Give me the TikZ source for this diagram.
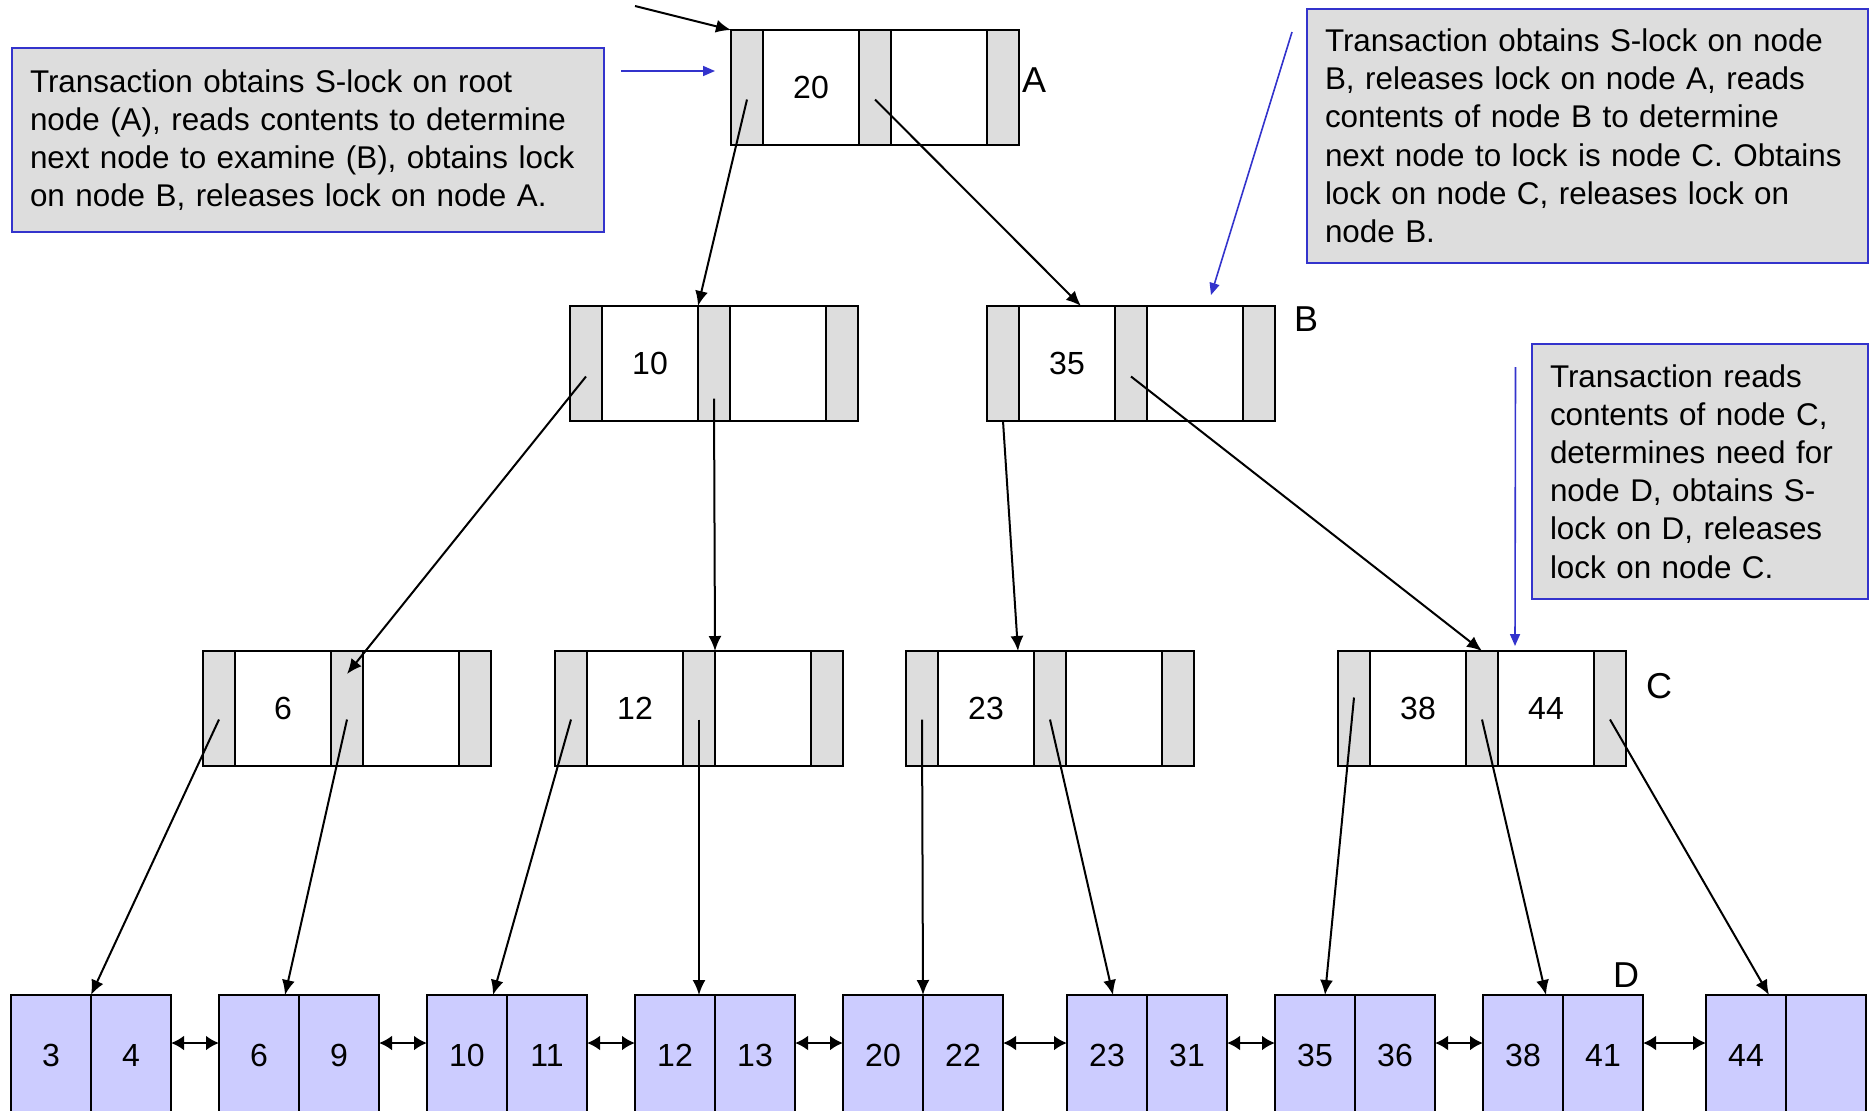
\documentclass[tikz,border=0pt]{standalone}
\usepackage{fontspec}
\setmainfont{Liberation Sans}
\usetikzlibrary{arrows.meta}
\tikzset{>=latex}
\usetikzlibrary{positioning}

\definecolor{cellgray}{HTML}{DDDDDD}
\definecolor{leafblue}{HTML}{CCCCFF}
\definecolor{noteblue}{HTML}{3333CC}

\tikzset{
  cell/.style={draw, line width=1.2pt, outer sep=0pt, inner sep=0pt, minimum height=57.5pt,
    font=\fontsize{16}{19}\selectfont},
  ptr/.style={cell, fill=cellgray, minimum width=16pt},
  key/.style={cell, fill=white, minimum width=48pt},
  leaf/.style={cell, fill=leafblue, minimum width=40pt, minimum height=60pt},
  note/.style={draw=noteblue, line width=1pt, fill=cellgray, anchor=north west, align=left,
    inner xsep=9pt, inner ysep=0pt, font=\fontsize{15.7}{19.1}\selectfont},
  tag/.style={font=\fontsize{18}{21}\selectfont, inner sep=0pt},
  link/.style={-{Latex[length=7.5pt,width=6.5pt]}, line width=1pt},
  sibling/.style={{Latex[length=6.5pt,width=7.5pt]}-{Latex[length=6.5pt,width=7.5pt]}, line width=1.4pt},
  hint/.style={-{Triangle[length=6pt,width=5pt]}, draw=noteblue, line width=0.8pt},
}

\begin{document}
\begin{tikzpicture}[x=0.5pt, y=-0.5pt]
    \useasboundingbox (0,0) rectangle (1875,1110);
    \clip (0,0) rectangle (1875,1110);

    % inner nodes of the tree
    \foreach \nm/\x/\y/\ka/\kb in {A/731/30/20/{}, N10/570/306/10/{}, B/987/306/35/{},
        N6/203/651/6/{}, N12/555/651/12/{}, N23/906/651/23/{}, C/1338/651/38/44} {
      \node[ptr, anchor=north west] (\nm-0) at (\x,\y) {};
      \node[key, right=0pt of \nm-0] (\nm-1) {\ka};
      \node[ptr, right=0pt of \nm-1] (\nm-2) {};
      \node[key, right=0pt of \nm-2] (\nm-3) {\kb};
      \node[ptr, right=0pt of \nm-3] (\nm-4) {};
    }

    % leaves
    \foreach \nm/\x/\ka/\kb in {L1/11/3/4, L2/219/6/9, L3/427/10/11, L4/635/12/13, L5/843/20/22,
        L6/1067/23/31, L7/1275/35/36, L8/1483/38/41, L9/1706/44/{}} {
      \node[leaf, anchor=north west] (\nm-a) at (\x,995) {\ka};
      \node[leaf, right=0pt of \nm-a] (\nm-b) {\kb};
    }
    \foreach \i [evaluate=\i as \j using int(\i+1)] in {1,...,8}
      \draw[sibling] ([yshift=-24pt]L\i-b.north east) -- ([yshift=-24pt]L\j-a.north west);

    \node[tag] (lblA) at (1034,80) {A};
    \node[tag] (lblB) at (1306,319) {B};
    \node[tag] (lblC) at (1659,686) {C};
    \node[tag] (lblD) at (1626,975) {D};

    % pointers
    \coordinate (entry) at (635,6);
    \draw[link] (entry) -- (A-0.north west);
    \draw[link] ([yshift=-6pt]A-0.center) -- (N10-1.north east);
    \draw[link] ([yshift=-6pt]A-2.center) -- ([xshift=7pt]B-1.north);
    \draw[link] ([yshift=-6.5pt]N10-0.center) -- ([yshift=-11.5pt]N6-2.north);
    \draw[link] ([yshift=-17.5pt]N10-2.center) -- (N12-2.north east);
    \draw[link] (B-0.south) -- ([xshift=16pt]N23-1.north);
    \draw[link] ([yshift=-6.5pt]B-2.center) -- (C-2.north);
    \draw[link] ([yshift=-5.5pt]N6-0.center) -- (L1-a.north east);
    \draw[link] ([yshift=-5.5pt]N6-2.center) -- ([xshift=13pt]L2-a.north);
    \draw[link] ([yshift=-5.5pt]N12-0.center) -- ([xshift=13pt]L3-a.north);
    \draw[link] ([yshift=-5.5pt]N12-2.center) -- ([xshift=12pt]L4-a.north);
    \draw[link] ([yshift=-5.5pt]N23-0.center) -- (L5-a.north east);
    \draw[link] ([yshift=-5.5pt]N23-2.center) -- ([xshift=3pt]L6-a.north);
    \draw[link] ([yshift=5.5pt]C-0.center) -- ([xshift=5pt]L7-a.north);
    \draw[link] ([yshift=-5.5pt]C-2.center) -- ([xshift=11.5pt]L8-a.north);
    \draw[link] ([yshift=-5.5pt]C-4.center) -- ([xshift=11.5pt]L9-a.north);

    % notes
    \node[note, text width=278pt, minimum height=92pt] (note1) at (11,47)
      {\mbox{Transaction obtains S-lock on root}\\ \mbox{node (A), reads contents to determine}\\
       \mbox{next node to examine (B), obtains lock}\\ \mbox{on node B, releases lock on node A.}};
    \node[note, text width=262.4pt, minimum height=126.8pt] (note2) at (1306,8)
      {\mbox{Transaction obtains S-lock on node}\\ \mbox{B, releases lock on node A, reads}\\
       \mbox{contents of node B to determine}\\ \mbox{next node to lock is node C. Obtains}\\
       \mbox{lock on node C, releases lock on}\\ \mbox{node B.}};
    \node[note, text width=150pt, minimum height=127.3pt] (note3) at (1531,343)
      {\mbox{Transaction reads}\\ \mbox{contents of node C,}\\ \mbox{determines need for}\\
       \mbox{node D, obtains S-}\\ \mbox{lock on D, releases}\\ \mbox{lock on node C.}};

    \coordinate (hint1) at ([xshift=8pt,yshift=-12pt]note1.north east);
    \coordinate (hint2) at ([xshift=-7pt,yshift=-12pt]note2.north west);
    \coordinate (hint3) at ([xshift=-7.75pt,yshift=-12pt]note3.north west);
    \draw[hint] (hint1) -- ([xshift=-8pt,yshift=-20.5pt]A-0.north west);
    \draw[hint] (hint2) -- ([xshift=8pt,yshift=5.5pt]B-3.north);
    \draw[hint] (hint3) -- ([xshift=8.5pt,yshift=2.5pt]C-3.north west);
\end{tikzpicture}
\end{document}
